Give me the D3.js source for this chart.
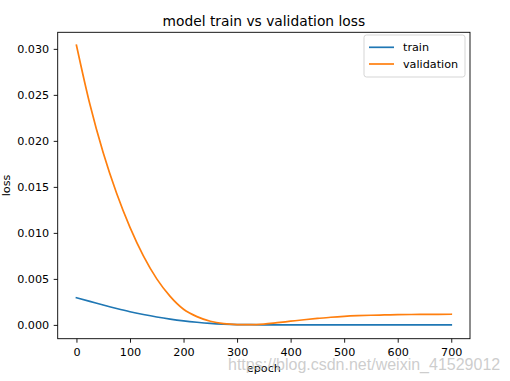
<!DOCTYPE html>
<html>
<head>
<meta charset="utf-8">
<script src="https://cdn.jsdelivr.net/npm/d3@7"></script>
<style>
  body { margin: 0; background: #fff; }
  svg { display: block; font-family: "DejaVu Sans", sans-serif; }
</style>
</head>
<body>
<script>
var epochs = [0, 25, 50, 75, 100, 125, 150, 175, 200, 225, 250, 275, 300, 325, 350,
  375, 400, 425, 450, 475, 500, 525, 550, 575, 600, 625, 650, 675, 700];

var trainLoss = [0.00295, 0.00256, 0.00216, 0.00178, 0.00143, 0.00113, 0.00086, 0.00063,
  0.00044, 0.00029, 0.00017, 0.00009, 0.00004, 0.00002, 0.00001, 0.00001, 0.00001,
  0.00001, 0.00001, 0.00001, 0.00001, 0.00001, 0.00001, 0.00001, 0.00001, 0.00001,
  0.00001, 0.00001, 0.00001];

var valLoss = [0.0304, 0.0240, 0.0187, 0.0143, 0.0106, 0.0075, 0.0050, 0.0031, 0.0017,
  0.0009, 0.0004, 0.00014, 0.00004, 0.00002, 0.00009, 0.00024, 0.00040, 0.00056,
  0.00070, 0.00083, 0.00093, 0.00100, 0.00105, 0.00108, 0.00111, 0.00113, 0.00114,
  0.00115, 0.00116];

var xTicks = [0, 100, 200, 300, 400, 500, 600, 700];
var yTicks = [0, 0.005, 0.010, 0.015, 0.020, 0.025, 0.030];

var series = [
  { name: "train", values: trainLoss, color: "#1f77b4" },
  { name: "validation", values: valLoss, color: "#ff7f0e" }
];

var W = 510, H = 381;
var box = { left: 57.7, right: 470, top: 32.3, bottom: 338.7 };

var svg = d3.select("body").append("svg")
  .attr("width", W)
  .attr("height", H);

var x = d3.scaleLinear().domain([-35, 735]).range([box.left, box.right]);
var y = d3.scaleLinear().domain([-0.0015, 0.0318]).range([box.bottom, box.top]);

var line = d3.line()
  .x(function (d, i) { return x(epochs[i]); })
  .y(function (d) { return y(d); })
  .curve(d3.curveMonotoneX);

svg.append("defs").append("clipPath").attr("id", "clip")
  .append("rect")
  .attr("x", box.left).attr("y", box.top)
  .attr("width", box.right - box.left).attr("height", box.bottom - box.top);

svg.append("g").attr("clip-path", "url(#clip)")
  .selectAll("path")
  .data(series)
  .enter()
  .append("path")
  .attr("d", function (s) { return line(s.values); })
  .attr("fill", "none")
  .attr("stroke", function (s) { return s.color; })
  .attr("stroke-width", 1.7)
  .attr("stroke-linejoin", "round")
  .attr("stroke-linecap", "square");

// axes
var xAxis = svg.append("g")
  .attr("transform", "translate(0," + box.bottom + ")")
  .call(d3.axisBottom(x).tickValues(xTicks).tickFormat(d3.format("d")).tickSize(4).tickPadding(5));

var yAxis = svg.append("g")
  .attr("transform", "translate(" + box.left + ",0)")
  .call(d3.axisLeft(y).tickValues(yTicks).tickFormat(d3.format(".3f")).tickSize(4).tickPadding(4.5));

[xAxis, yAxis].forEach(function (g) {
  g.select(".domain").remove();
  g.selectAll("text")
    .style("font-family", "DejaVu Sans")
    .style("font-size", "11.2px")
    .attr("fill", "#000");
  g.selectAll("line").attr("stroke", "#000").attr("stroke-width", 0.9);
});

svg.append("rect")
  .attr("x", box.left).attr("y", box.top)
  .attr("width", box.right - box.left).attr("height", box.bottom - box.top)
  .attr("fill", "none")
  .attr("stroke", "#000")
  .attr("stroke-width", 0.9);

// title and labels
svg.append("text")
  .attr("x", (box.left + box.right) / 2)
  .attr("y", 25.5)
  .attr("text-anchor", "middle")
  .style("font-size", "13.8px")
  .text("model train vs validation loss");

svg.append("text")
  .attr("x", (box.left + box.right) / 2)
  .attr("y", 372)
  .attr("text-anchor", "middle")
  .style("font-size", "11.2px")
  .text("epoch");

svg.append("text")
  .attr("transform", "translate(10," + (box.top + box.bottom) / 2 + ") rotate(-90)")
  .attr("text-anchor", "middle")
  .style("font-size", "11.2px")
  .text("loss");

// legend
var legend = svg.append("g").attr("transform", "translate(364,35)");

legend.append("rect")
  .attr("width", 101).attr("height", 42)
  .attr("rx", 2.5)
  .attr("fill", "#fff")
  .attr("fill-opacity", 0.8)
  .attr("stroke", "#d0d0d0")
  .attr("stroke-width", 0.9);

var item = legend.selectAll(".item")
  .data(series)
  .enter()
  .append("g")
  .attr("class", "item")
  .attr("transform", function (s, i) { return "translate(0," + (12.3 + i * 16.7) + ")"; });

item.append("line")
  .attr("x1", 5).attr("x2", 30)
  .attr("stroke", function (s) { return s.color; })
  .attr("stroke-width", 1.7);

item.append("text")
  .attr("x", 39)
  .attr("dy", "0.36em")
  .style("font-size", "11.2px")
  .text(function (s) { return s.name; });

// watermark
svg.append("text")
  .attr("x", 228)
  .attr("y", 369.5)
  .style("font-family", "Liberation Sans")
  .style("font-size", "16px")
  .attr("fill", "#c4c4c4")
  .attr("fill-opacity", 0.85)
  .text("https://blog.csdn.net/weixin_41529012");
</script>
</body>
</html>
